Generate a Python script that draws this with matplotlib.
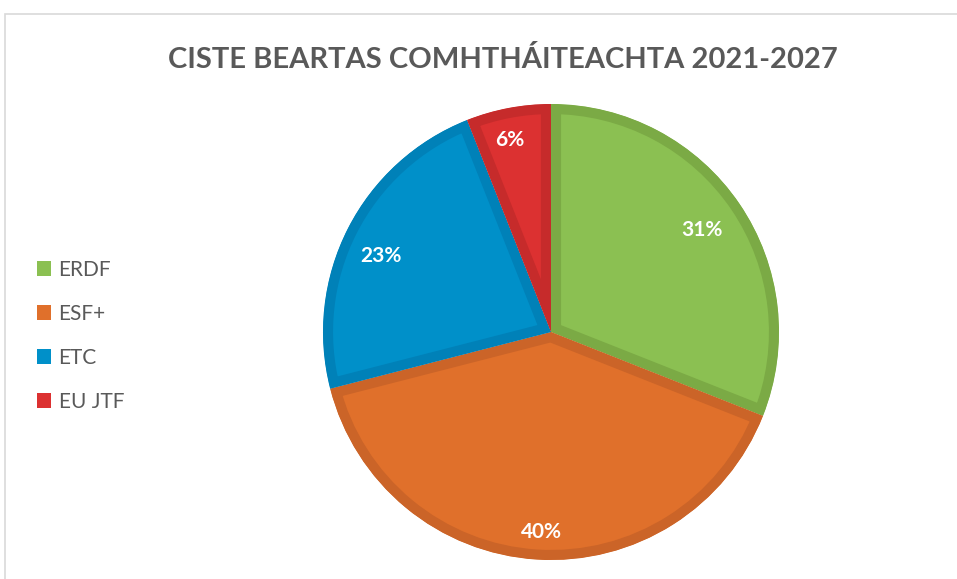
import matplotlib
matplotlib.use("Agg")
import numpy as np
import matplotlib.pyplot as plt
from matplotlib.patches import Rectangle, Wedge

categories = ["ERDF", "ESF+", "ETC", "EU JTF"]
values = [31, 40, 23, 6]
fill_colors = ["#8BC052", "#E0702B", "#0090C9", "#DC3131"]
edge_colors = ["#7BAA45", "#CB6428", "#0081B8", "#C62B2B"]
title = "CISTE BEARTAS COMHTHÁITEACHTA 2021-2027"
label_dist = [0.80, 0.88, 0.815, 0.86]   # label placement (fraction of radius)
label_shift = [-0.3, 0.8, 2.9, 1.2]       # label angle shift (degrees)

W, H = 957, 579
fig = plt.figure(figsize=(W / 100, H / 100), dpi=100)
ax = fig.add_axes([0, 0, 1, 1])

# outer chart frame
fig.patches.append(Rectangle((5 / W, -0.1), 1.2, (H - 14) / H + 0.1, transform=fig.transFigure,
                             fill=False, edgecolor="#D9D9D9", linewidth=1.2))

cx, cy, R = 551, H - 332, 228
wedges, texts, autotexts = ax.pie(
    values, colors=fill_colors, startangle=90, counterclock=False,
    center=(cx, cy), radius=R, autopct="%d%%", pctdistance=0.85,
    textprops=dict(color="white", fontsize=15, fontweight="bold", family="Lato"),
    wedgeprops=dict(linewidth=14.5, joinstyle="miter"), frame=True)
for w, ec, t, d, s in zip(wedges, edge_colors, autotexts, label_dist, label_shift):
    w.set_edgecolor(ec)
    clip = Wedge(w.center, w.r, w.theta1, w.theta2, transform=ax.transData)
    w.set_clip_path(clip)
    w.set_clip_on(True)
    mid = np.deg2rad((w.theta1 + w.theta2) / 2 + s)
    t.set_position((cx + d * R * np.cos(mid), cy + d * R * np.sin(mid)))
ax.set_xlim(0, W)
ax.set_ylim(0, H)
ax.set_aspect("equal")
ax.axis("off")

fig.text(503 / W, 1 - 59 / H, title, ha="center", va="center", fontsize=21,
         fontweight="bold", color="#595959", family="Lato")

leg = ax.legend(wedges, categories, loc="upper left", bbox_to_anchor=(18 / W, 1 - 241 / H),
                frameon=False, handlelength=0.7, handleheight=0.7, handletextpad=0.35,
                labelspacing=1.15, prop=dict(family="Lato", size=15))
for t in leg.get_texts():
    t.set_color("#595959")
for h in leg.legend_handles:
    h.set_linewidth(0)

fig.savefig("out.png", dpi=100)
